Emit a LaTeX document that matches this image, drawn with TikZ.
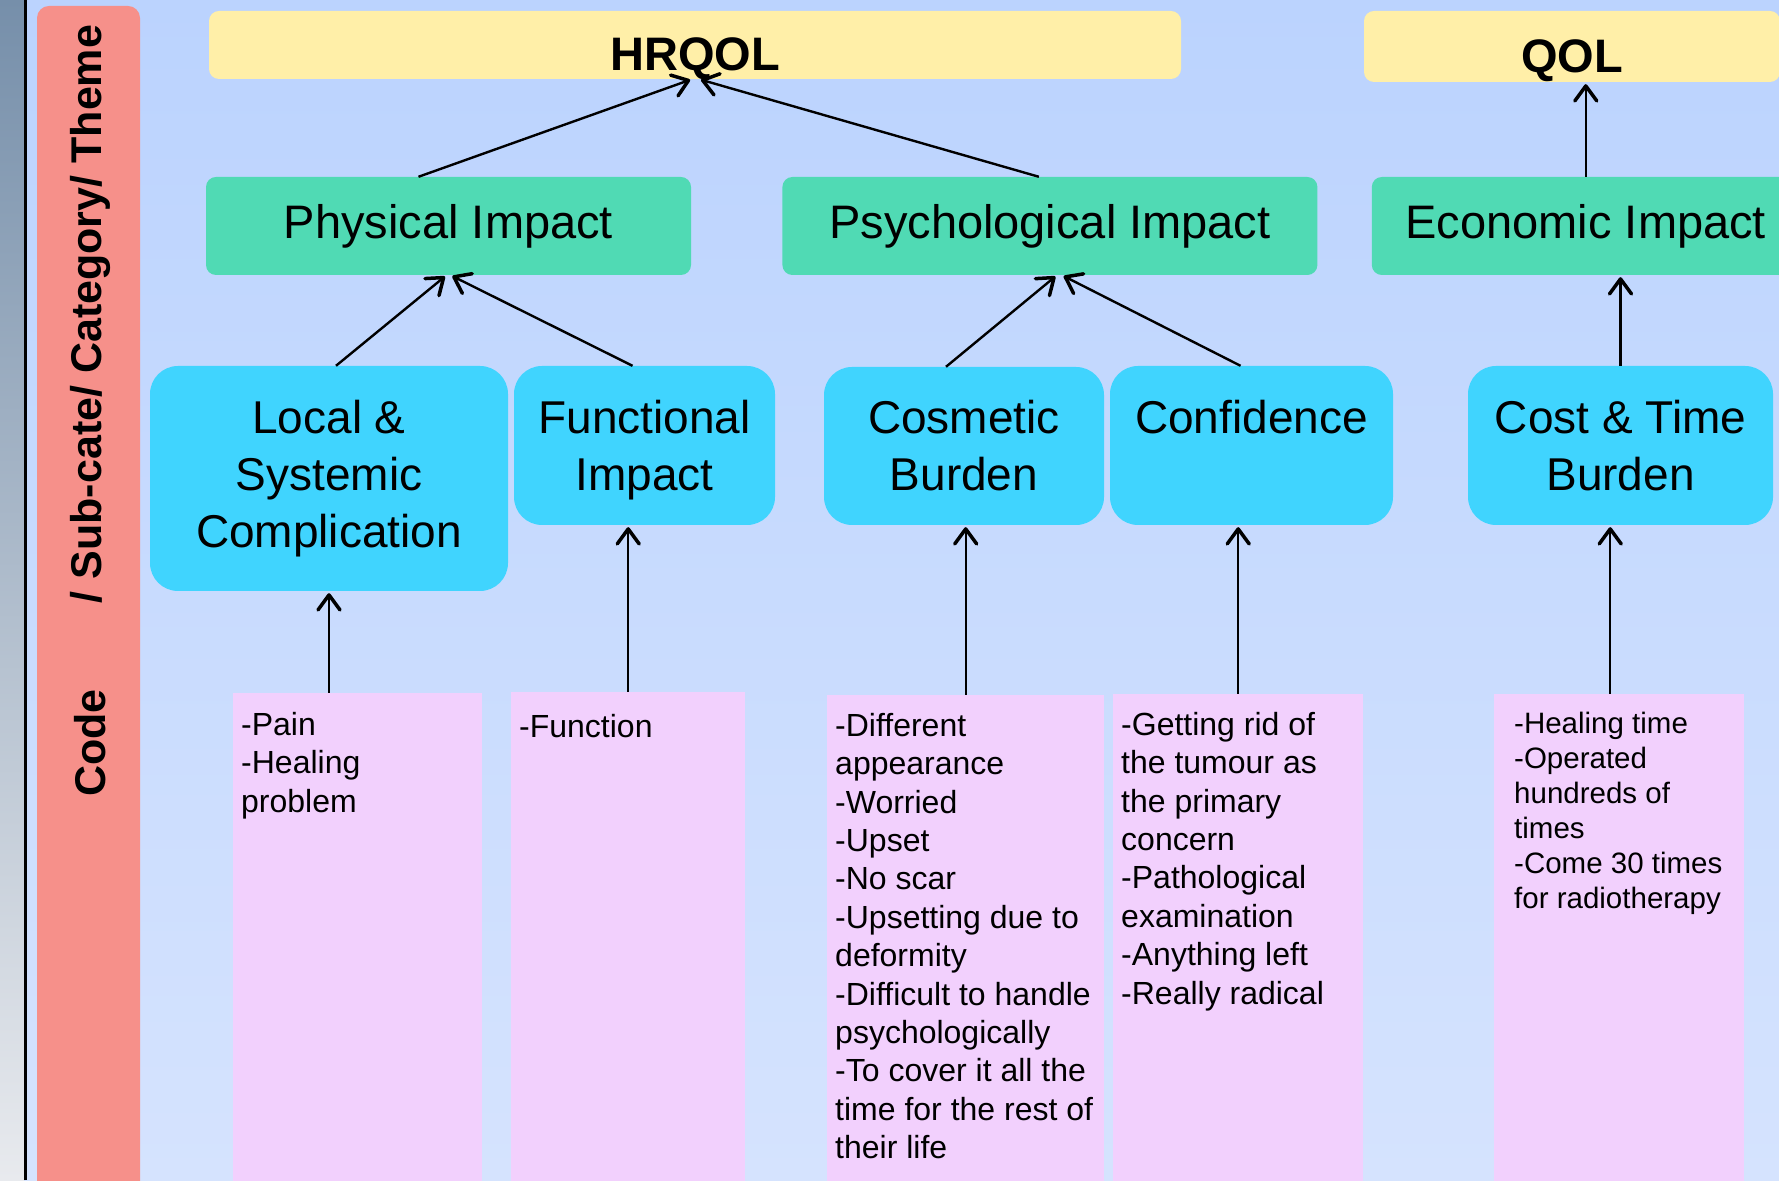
\documentclass[tikz,border=0pt]{standalone}
\usepackage{fontspec}
\setmainfont{Liberation Sans}
\usepackage{tikz}
\usetikzlibrary{
  arrows.meta,
  calc,
  positioning,
}
\tikzstyle{arrow} = [
  -{Straight Barb[length=15pt,width=22pt,line width=3.5pt,round]},
  line width=2.4pt,
  black,
  shorten >=2pt,
]
\definecolor{bgtop}{RGB}{187,211,254}
\definecolor{bgbottom}{RGB}{213,227,254}
\definecolor{stripdark}{RGB}{118,143,170}
\definecolor{striplight}{RGB}{232,234,238}
\definecolor{salmon}{RGB}{246,144,138}
\definecolor{themeyellow}{RGB}{255,239,168}
\definecolor{catgreen}{RGB}{80,218,180}
\definecolor{subcyan}{RGB}{64,212,254}
\definecolor{codepink}{RGB}{242,208,253}
\tikzstyle{theme} = [rectangle, rounded corners=10pt, fill=themeyellow, inner sep=0pt,
  font=\fontsize{47}{56}\selectfont\bfseries, text height=52pt, text depth=0pt]
\tikzstyle{category} = [rectangle, rounded corners=10pt, fill=catgreen, minimum height=98pt,
  font=\fontsize{47}{56}\selectfont]
\tikzstyle{subcat} = [rectangle, rounded corners=28pt, fill=subcyan, align=center,
  font=\fontsize{46}{57}\selectfont]
\tikzstyle{codebox} = [rectangle, fill=codepink, inner sep=0pt, anchor=north west, minimum height=520pt]
\tikzstyle{codetext} = [anchor=north west, align=left, inner sep=0pt, execute at begin node=\strut,
  font=\fontsize{32}{38.4}\selectfont]
\tikzstyle{levelname} = [rotate=90, font=\fontsize{43}{50}\selectfont\bfseries]

\begin{document}
\begin{tikzpicture}[x=1pt,y=1pt,node distance=0pt and 0pt]
        \useasboundingbox (0,0) rectangle (1779,1180);
        \fill[top color=bgtop,bottom color=bgbottom] (0,0) rectangle (1779,1180);
        \fill[top color=stripdark,bottom color=striplight] (0,0) rectangle (24,1180);
        \draw[line width=3pt] (25.5,0) -- (25.5,1180);
        \fill[salmon,rounded corners=12pt] (37,-30) rectangle (140,1174);

        \node[levelname] (lcode) at (90,437) {Code};
        \node[levelname] (lupper) at (90,866) {/ Sub-cate/ Category/ Theme};

        \node[theme,minimum width=972pt,minimum height=68pt] (hrqol) at (695,1135) {HRQOL};
        \node[theme,minimum width=416pt,minimum height=71pt] (qol) at (1572,1133.5) {QOL};

        \node[category,minimum width=485pt] (phys) at (448.5,954) {Physical Impact};
        \node[category,minimum width=535pt] (psych) [right=91pt of phys] {Psychological Impact};
        \node[category,minimum width=428pt] (econ) [right=54pt of psych] {Economic Impact};

        \node[subcat,minimum width=358pt,minimum height=225pt] (local) at (329,701.5) {Local \&\\Systemic\\Complication};
        \node[subcat,minimum width=261pt,minimum height=159pt] (func) at (644.5,734.5) {Functional\\\smash{Impact}};
        \node[subcat,minimum width=280pt,minimum height=158pt] (cosm) at (964,734) {Cosmetic\\Burden};
        \node[subcat,minimum width=283pt,minimum height=159pt] (conf) at (1251.5,734.5) {Confidence\\\mbox{}};
        \node[subcat,minimum width=305pt,minimum height=159pt] (cost) at (1620.5,734.5) {Cost \& Time\\Burden};

        \node[codebox,minimum width=249pt] (c1) at (233,487) {};
        \node[codebox,minimum width=234pt] (c2) at (511,488) {};
        \node[codebox,minimum width=277pt] (c3) at (827,485) {};
        \node[codebox,minimum width=250pt] (c4) at (1113,486) {};
        \node[codebox,minimum width=250pt] (c5) at (1494,486) {};

        \node[codetext] (t1) at ($(c1.north west)+(8,-19)$) {-Pain\\-Healing\\problem};
        \node[codetext] (t2) at ($(c2.north west)+(8,-18)$) {-Function};
        \node[codetext] (t3) at ($(c3.north west)+(8,-18)$) {-Different\\appearance\\-Worried\\-Upset\\-No scar\\-Upsetting due to\\deformity\\-Difficult to handle\\psychologically\\-To cover it all the\\time for the rest of\\their life};
        \node[codetext] (t4) at ($(c4.north west)+(8,-18)$) {-Getting rid of\\the tumour as\\the primary\\concern\\-Pathological\\examination\\-Anything left\\-Really radical};
        \node[codetext,font=\fontsize{29.5}{35}\selectfont] (t5) at ($(c5.north west)+(20,-18)$) {-Healing time\\-Operated\\hundreds of\\times\\-Come 30 times\\for radiotherapy};

        \draw[arrow] (c1.north -| local.south) -- (local.south);
        \draw[arrow] (c2.north) -- (c2.north |- func.south);
        \draw[arrow] (c3.north) -- (c3.north |- cosm.south);
        \draw[arrow] (c4.north) -- (c4.north |- conf.south);
        \draw[arrow] ([xshift=-9pt]c5.north) -- ([xshift=-9pt]c5.north |- cost.south);

        \draw[arrow] ([xshift=7pt]local.north) -- ([xshift=-2pt]phys.south);
        \draw[arrow] ([xshift=-12pt]func.north) -- ([xshift=2pt]phys.south);
        \draw[arrow] ([xshift=-18pt]cosm.north) -- ([xshift=7pt]psych.south);
        \draw[arrow] ([xshift=-11pt]conf.north) -- ([xshift=12pt]psych.south);
        \draw[arrow] (cost.north) -- (cost.north |- econ.south);

        \draw[arrow] ([xshift=-30pt]phys.north) -- ([xshift=-3pt]hrqol.south);
        \draw[arrow] ([xshift=-11pt]psych.north) -- ([xshift=4pt]hrqol.south);
        \draw[arrow] (econ.north) -- (econ.north |- qol.south);
    \end{tikzpicture}
\end{document}
